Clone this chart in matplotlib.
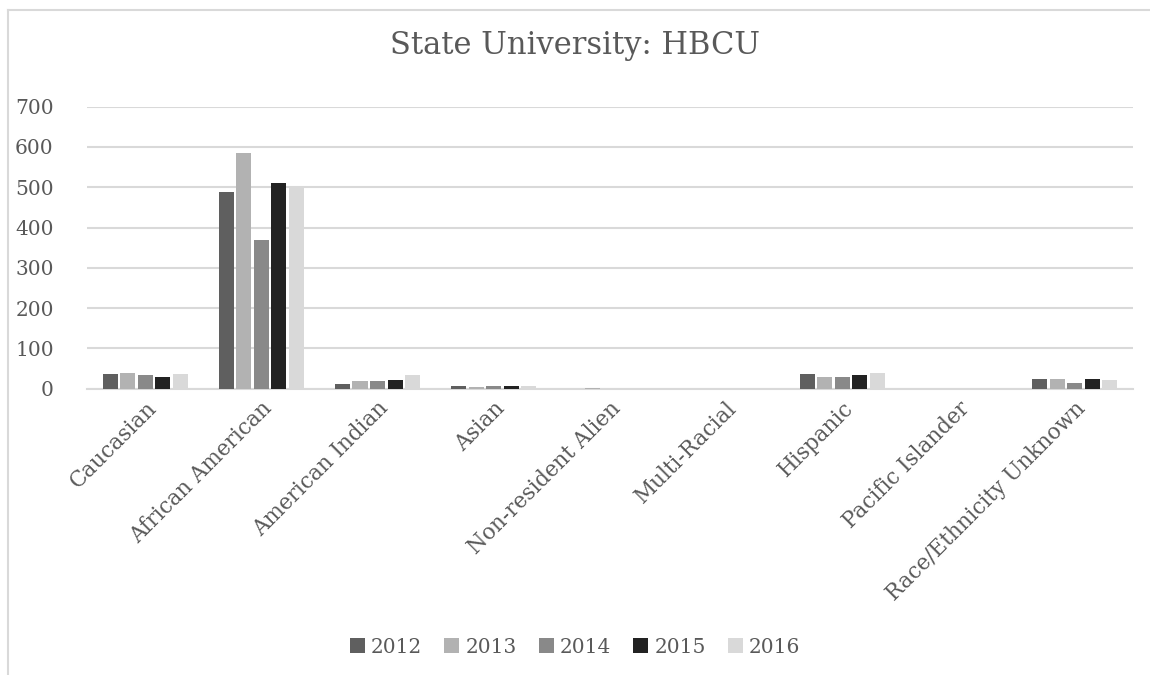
import matplotlib
matplotlib.use("Agg")
import matplotlib.pyplot as plt
import numpy as np

# enrollment by race/ethnicity, one list per year
categories = ["Caucasian", "African American", "American Indian", "Asian",
              "Non-resident Alien", "Multi-Racial", "Hispanic",
              "Pacific Islander", "Race/Ethnicity Unknown"]
years = ["2012", "2013", "2014", "2015", "2016"]
y2012 = [37, 489, 12, 6, 0, 0, 36, 0, 24]
y2013 = [38, 584, 18, 4, 3, 0, 29, 0, 24]
y2014 = [35, 369, 20, 6, 0, 0, 29, 0, 14]
y2015 = [28, 511, 21, 6, 0, 0, 34, 0, 25]
y2016 = [37, 500, 33, 8, 0, 3, 38, 0, 21]
series = [y2012, y2013, y2014, y2015, y2016]
colors = ["#5f5f5f", "#b2b2b2", "#898989", "#222222", "#d9d9d9"]

plt.rcParams['font.family'] = ['DejaVu Serif']

fig = plt.figure(figsize=(11.5, 6.75), dpi=100)
ax = fig.add_axes([0.0757, 0.4241, 0.9093, 0.4179])

x = np.arange(len(categories))
pitch = 0.151
for i, (vals, col, yr) in enumerate(zip(series, colors, years)):
    ax.bar(x + (i - 2) * pitch, vals, width=pitch * 0.86, color=col,
           linewidth=0, label=yr, zorder=3)

ax.set_xlim(-0.5, len(categories) - 0.5)
ax.set_ylim(0, 700)
ax.set_yticks(range(0, 701, 100))
ax.grid(axis="y", color="#d9d9d9", linewidth=1.5, zorder=0)
for s in ["top", "right", "left"]:
    ax.spines[s].set_visible(False)
ax.spines["bottom"].set_color("#d9d9d9")
ax.spines["bottom"].set_linewidth(1.5)
ax.tick_params(axis="both", length=0, labelcolor="#595959")
ax.tick_params(axis="y", pad=24, labelsize=14.5)
ax.set_xticks(x)
ax.set_xticklabels(categories, rotation=45, ha="right", rotation_mode="anchor")
ax.tick_params(axis="x", pad=6, labelsize=15.5)

fig.text(0.5, 0.933, "State University: HBCU", ha="center", va="center",
         fontsize=22, color="#595959")

leg = fig.legend(loc="center", bbox_to_anchor=(0.5, 0.041), ncol=5,
                 frameon=False, fontsize=14.5, handlelength=0.75, handleheight=0.75,
                 handletextpad=0.3, columnspacing=1.1)
for t in leg.get_texts():
    t.set_color("#595959")

# light border on the top and left edge of the chart area
fig.add_artist(plt.Line2D([0.007, 1.0], [0.985, 0.985], transform=fig.transFigure,
                          color="#d9d9d9", linewidth=1.5))
fig.add_artist(plt.Line2D([0.007, 0.007], [0.0, 0.985], transform=fig.transFigure,
                          color="#d9d9d9", linewidth=1.5))

fig.savefig("out.png", dpi=100, facecolor="white")
